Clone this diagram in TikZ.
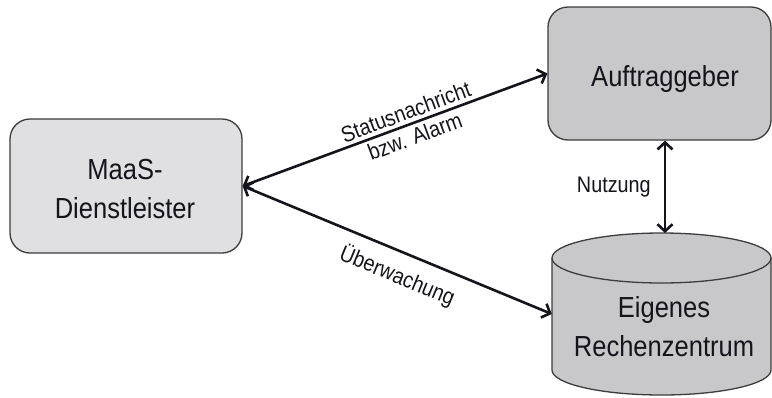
\documentclass[tikz,border=0pt]{standalone}
\usepackage{fontspec}
\setmainfont{Liberation Sans}[FakeStretch=0.88]
\usetikzlibrary{arrows.meta}

\definecolor{boxlight}{HTML}{E0E0E2}
\definecolor{boxdark}{HTML}{C8C8CA}
\definecolor{edge}{HTML}{3C3C3C}
\definecolor{ink}{HTML}{14141C}

\begin{document}
\begin{tikzpicture}[x=1pt,y=-1pt,
  roundbox/.style={draw=edge, line width=1.3pt, rounded corners=20pt, inner sep=0pt},
  boxtext/.style={text=ink, font=\fontsize{29}{39}\selectfont, align=center, inner sep=0pt},
  link/.style={line width=2.6pt, ink, {Straight Barb[length=7pt,width=15pt]}-{Straight Barb[length=7pt,width=15pt]}},
  linklabel/.style={text=ink, font=\fontsize{22.5}{26}\selectfont, align=center, inner sep=1pt}]
\useasboundingbox (0,0) rectangle (772,397);

% service provider
\node[roundbox, fill=boxlight, minimum width=232pt, minimum height=134pt] (maas) at (126,186) {};
\node[boxtext] (maastext) at (125,189) {MaaS-\\Dienstleister};

% client
\node[roundbox, fill=boxdark, minimum width=223pt, minimum height=133pt] (auf) at (659.5,73.5) {};
\node[boxtext] (auftext) at (665,79) {Auftraggeber};

% data centre drawn as a cylinder
\fill[boxdark] (552,258) -- (552,370) arc[start angle=180, end angle=360, x radius=109.5pt, y radius=25pt] -- (771,258) -- cycle;
\fill[boxdark] (661.5,258) ellipse[x radius=109.5pt, y radius=25pt];
\draw[edge, line width=1.3pt] (552,258) -- (552,370) arc[start angle=180, end angle=360, x radius=109.5pt, y radius=25pt] -- (771,258);
\draw[edge, line width=1.3pt] (661.5,258) ellipse[x radius=109.5pt, y radius=25pt];
\node[minimum width=219pt, minimum height=112pt, inner sep=0pt] (rz) at (661.5,314) {};
\node[boxtext] (rztext) at (664,327) {Eigenes\\Rechenzentrum};
\coordinate (rztop) at (665,233);

% connectors
\draw[link] (maas.east) -- (auf.west)
  node[linklabel, sloped, pos=0.55] {Statusnachricht\\bzw. Alarm};
\draw[link] (maas.east) -- (rz.west)
  node[linklabel, sloped, pos=0.53, below=10pt] {Überwachung};
\draw[link] (auf.south -| rztop) -- (rztop)
  node[linklabel, midway, left=12pt] {Nutzung};
\end{tikzpicture}
\end{document}
